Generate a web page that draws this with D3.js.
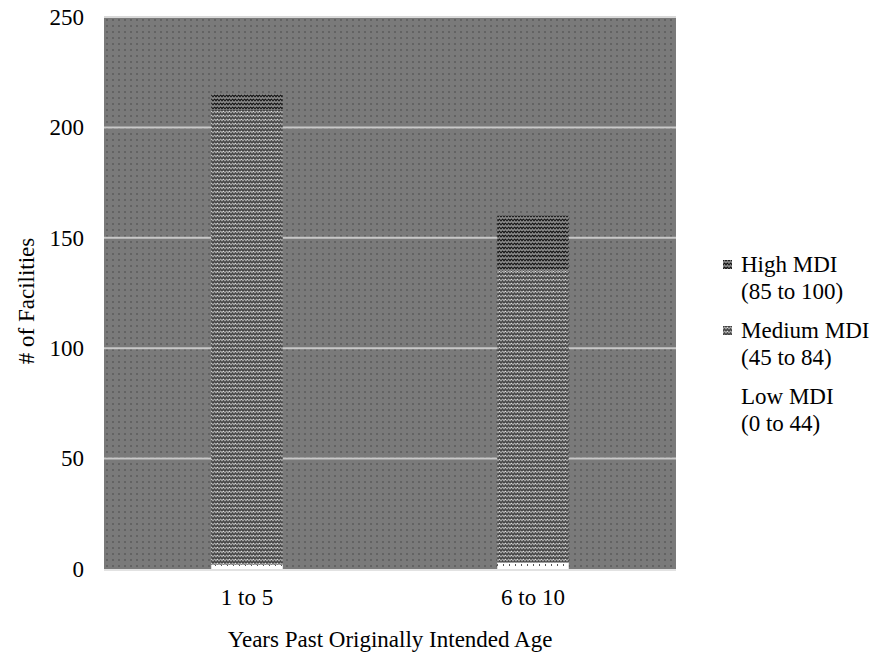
<!DOCTYPE html>
<html>
<head>
<meta charset="utf-8">
<script src="https://cdn.jsdelivr.net/npm/d3@7"></script>
<style>
  body { margin: 0; background: #fff; }
</style>
</head>
<body>
<div id="chart"></div>
<script>
const categories = ['1 to 5', '6 to 10'];
const lowMDI = [2, 3];
const mediumMDI = [206, 132];
const highMDI = [7, 25];
const yTicks = [0, 50, 100, 150, 200, 250];
const seriesNames = ['Low MDI', 'Medium MDI', 'High MDI'];
const legendLabels = [
  ['High MDI', '(85 to 100)'],
  ['Medium MDI', '(45 to 84)'],
  ['Low MDI', '(0 to 44)']
];

const width = 880;
const height = 656;
const margin = { top: 17, right: 204, bottom: 87, left: 104 };
const serif = '"Liberation Serif", "Times New Roman", serif';
const fontSize = 23;

const svg = d3
  .select('#chart')
  .append('svg')
  .attr('width', width)
  .attr('height', height)
  .attr('font-family', serif);

const defs = svg.append('defs');

// plot background: gray with small dark dots
const bg = defs.append('pattern')
  .attr('id', 'bgDots')
  .attr('patternUnits', 'userSpaceOnUse')
  .attr('width', 6).attr('height', 6)
  .attr('x', margin.left).attr('y', margin.top);
bg.append('rect').attr('width', 6).attr('height', 6).attr('fill', '#7a7a7a');
bg.append('rect').attr('x', 2).attr('y', 2).attr('width', 2).attr('height', 2).attr('fill', '#636363');

// zigzag pattern helper
function zigzag(id, base, line, dots) {
  const p = defs.append('pattern')
    .attr('id', id)
    .attr('patternUnits', 'userSpaceOnUse')
    .attr('width', 6).attr('height', 4);
  p.append('rect').attr('width', 6).attr('height', 4).attr('fill', base);
  p.append('path')
    .attr('d', 'M0,3 L1.5,1 L3,3 L4.5,1 L6,3')
    .attr('fill', 'none')
    .attr('stroke', line)
    .attr('stroke-width', 1.4);
  if (dots) {
    p.append('rect').attr('x', 1).attr('y', 3).attr('width', 1).attr('height', 1).attr('fill', dots);
  }
}
zigzag('medPat', '#acacac', '#454545', '#e0e0e0');
zigzag('highPat', '#141414', '#8a8a8a', null);

const low = defs.append('pattern')
  .attr('id', 'lowPat')
  .attr('patternUnits', 'userSpaceOnUse')
  .attr('width', 6).attr('height', 6);
low.append('rect').attr('width', 6).attr('height', 6).attr('fill', '#ffffff');
low.append('rect').attr('x', 5).attr('y', 0).attr('width', 1).attr('height', 2).attr('fill', '#555');

const fills = { 'Low MDI': 'url(#lowPat)', 'Medium MDI': 'url(#medPat)', 'High MDI': 'url(#highPat)' };

const x = d3
  .scaleBand()
  .domain(categories)
  .range([margin.left, width - margin.right])
  .padding(0);

const y = d3
  .scaleLinear()
  .domain([0, 250])
  .range([height - margin.bottom, margin.top]);

// background
svg.append('rect')
  .attr('x', margin.left)
  .attr('y', margin.top)
  .attr('width', width - margin.left - margin.right)
  .attr('height', y(0) - margin.top)
  .attr('fill', 'url(#bgDots)');

// gridlines
svg.append('g')
  .selectAll('line')
  .data(yTicks.filter((d) => d > 0))
  .enter()
  .append('line')
  .attr('x1', margin.left)
  .attr('x2', width - margin.right)
  .attr('y1', (d) => y(d))
  .attr('y2', (d) => y(d))
  .attr('stroke', (d) => (d === 250 ? '#d8d8d8' : '#c8c8c8'))
  .attr('stroke-width', 2);

// stacked bars
const rows = categories.map((c, i) => ({
  cat: c,
  'Low MDI': lowMDI[i],
  'Medium MDI': mediumMDI[i],
  'High MDI': highMDI[i]
}));
const stacked = d3.stack().keys(seriesNames)(rows);
const barW = x.bandwidth() * 0.25;

svg.append('g')
  .selectAll('g')
  .data(stacked)
  .enter()
  .append('g')
  .attr('fill', (s) => fills[s.key])
  .selectAll('rect')
  .data((s) => s)
  .enter()
  .append('rect')
  .attr('x', (d) => x(d.data.cat) + (x.bandwidth() - barW) / 2)
  .attr('y', (d) => y(d[1]))
  .attr('width', barW)
  .attr('height', (d) => y(d[0]) - y(d[1]));

// x axis baseline
svg.append('line')
  .attr('x1', margin.left)
  .attr('x2', width - margin.right)
  .attr('y1', y(0) + 1)
  .attr('y2', y(0) + 1)
  .attr('stroke', '#e2e2e2')
  .attr('stroke-width', 2);

const styleTicks = (gg) => gg.selectAll('text')
  .attr('font-family', serif)
  .attr('font-size', fontSize)
  .attr('fill', '#000');

// y axis labels
const yAxis = (g) =>
  g.attr('transform', `translate(${margin.left},0)`)
    .attr('font-family', serif)
    .call(d3.axisLeft(y).tickValues(yTicks).tickSize(0).tickPadding(20))
    .call((gg) => gg.select('.domain').remove())
    .call(styleTicks);
svg.append('g').call(yAxis);

// x axis labels
const xAxis = (g) =>
  g.attr('transform', `translate(0,${y(0)})`)
    .attr('font-family', serif)
    .call(d3.axisBottom(x).tickSize(0).tickPadding(20))
    .call((gg) => gg.select('.domain').remove())
    .call(styleTicks);
svg.append('g').call(xAxis);

// axis titles
svg.append('text')
  .attr('x', (margin.left + width - margin.right) / 2)
  .attr('y', 647)
  .attr('text-anchor', 'middle')
  .attr('font-size', fontSize)
  .text('Years Past Originally Intended Age');

svg.append('text')
  .attr('transform', `translate(34,301) rotate(-90)`)
  .attr('text-anchor', 'middle')
  .attr('font-size', fontSize)
  .text('# of Facilities');

// legend
const legendFills = ['url(#highPat)', 'url(#medPat)', '#ffffff'];
legendLabels.forEach((lines, i) => {
  const ly = 272 + 66 * i;
  svg.append('rect')
    .attr('x', 723)
    .attr('y', ly - 12)
    .attr('width', 9)
    .attr('height', 9)
    .attr('fill', legendFills[i]);
  svg.append('text')
    .attr('x', 741)
    .attr('y', ly)
    .attr('font-size', fontSize)
    .text(lines[0]);
  svg.append('text')
    .attr('x', 741)
    .attr('y', ly + 27)
    .attr('font-size', fontSize)
    .text(lines[1]);
});
</script>
</body>
</html>
